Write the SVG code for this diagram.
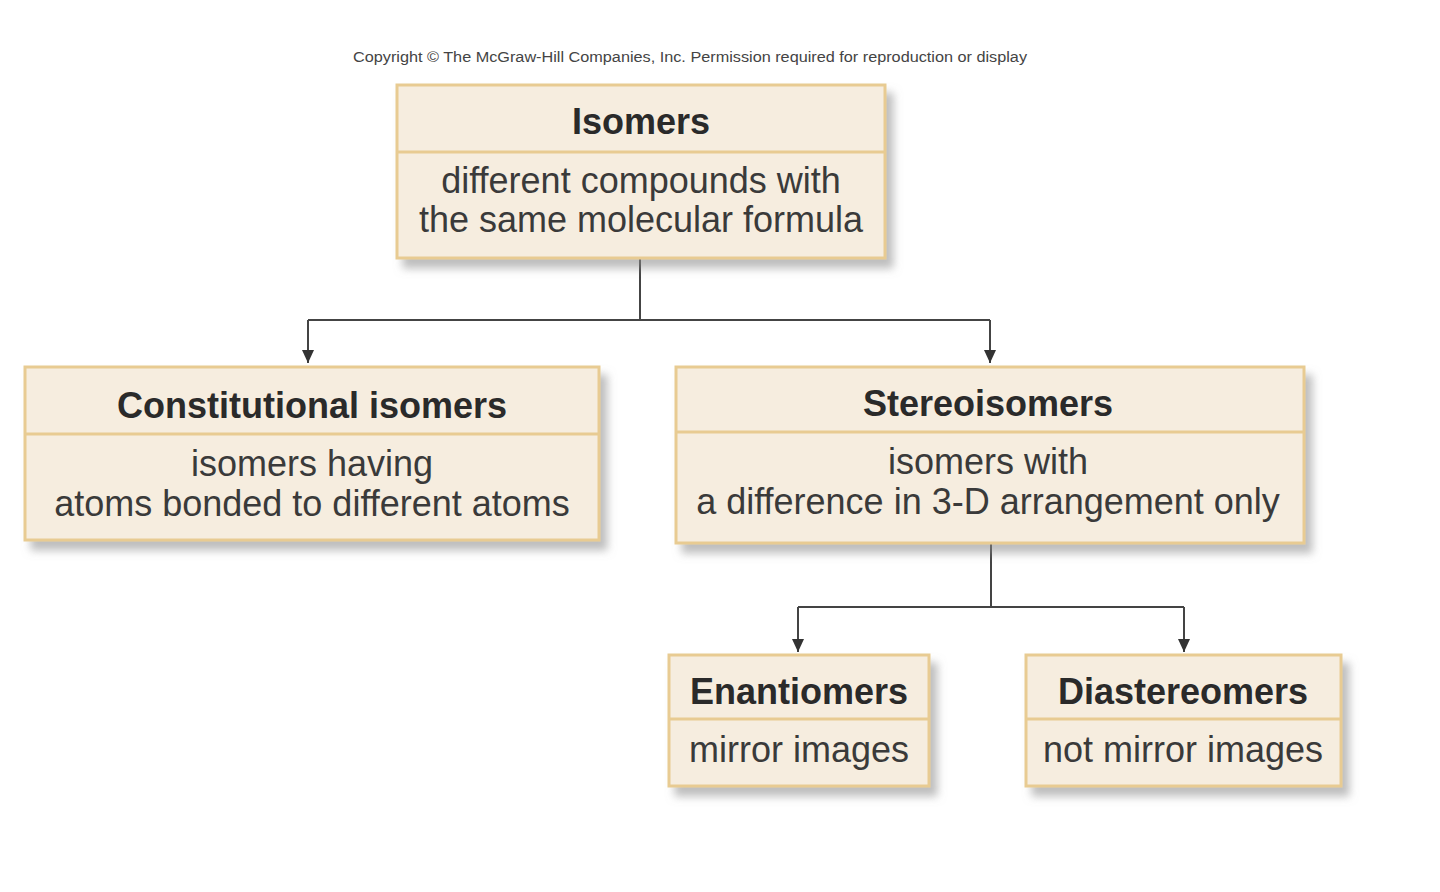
<svg xmlns="http://www.w3.org/2000/svg" width="1440" height="892" viewBox="0 0 1440 892">
<defs>
<style>
.box{fill:#f6eddf;stroke:#e8cb92;stroke-width:3;}
.div{stroke:#e8cb92;stroke-width:3;}
.t{font-family:"Liberation Sans",Arial,sans-serif;font-size:36px;font-weight:bold;fill:#2a2a2a;text-anchor:middle;}
.b{font-family:"Liberation Sans",Arial,sans-serif;font-size:36px;fill:#3a3a3a;text-anchor:middle;}
.c{fill:none;stroke:#444;stroke-width:2;}
.a{marker-end:url(#ah);}
.cp{font-family:"Liberation Sans",Arial,sans-serif;font-size:14px;fill:#444;}
</style>
<filter id="sh" x="-10%" y="-10%" width="125%" height="135%">
<feDropShadow dx="7" dy="9" stdDeviation="4" flood-color="#888" flood-opacity="0.55"/>
</filter>
<marker id="ah" markerWidth="13" markerHeight="12" refX="13" refY="6" orient="auto" markerUnits="userSpaceOnUse" viewBox="0 0 13 12">
<path d="M0,0 L13,6 L0,12 Z" fill="#333"/>
</marker>
</defs>
<rect width="1440" height="892" fill="#fff"/>
<text class="cp" x="353" y="62" textLength="674" lengthAdjust="spacingAndGlyphs">Copyright © The McGraw-Hill Companies, Inc. Permission required for reproduction or display</text>
<g id="connectors">
<path class="c" d="M640,258 V320 M308,320 H990"/>
<path class="c a" d="M308,320 V363"/>
<path class="c a" d="M990,320 V363"/>
<path class="c" d="M991,543 V607 M798,607 H1184"/>
<path class="c a" d="M798,607 V652"/>
<path class="c a" d="M1184,607 V652"/>
</g>
<g id="isomers">
<rect class="box" x="397" y="85" width="488" height="173" filter="url(#sh)"/>
<line class="div" x1="397" y1="152" x2="885" y2="152"/>
<text class="t" x="641" y="134">Isomers</text>
<text class="b" x="641" y="193">different compounds with</text>
<text class="b" x="641" y="232">the same molecular formula</text>
</g>
<g id="constitutional">
<rect class="box" x="25" y="367" width="574" height="173" filter="url(#sh)"/>
<line class="div" x1="25" y1="434" x2="599" y2="434"/>
<text class="t" x="312" y="418">Constitutional isomers</text>
<text class="b" x="312" y="476">isomers having</text>
<text class="b" x="312" y="516">atoms bonded to different atoms</text>
</g>
<g id="stereoisomers">
<rect class="box" x="676" y="367" width="628" height="176" filter="url(#sh)"/>
<line class="div" x1="676" y1="432" x2="1304" y2="432"/>
<text class="t" x="988" y="416">Stereoisomers</text>
<text class="b" x="988" y="474">isomers with</text>
<text class="b" x="988" y="514">a difference in 3-D arrangement only</text>
</g>
<g id="enantiomers">
<rect class="box" x="669" y="655" width="260" height="131" filter="url(#sh)"/>
<line class="div" x1="669" y1="719" x2="929" y2="719"/>
<text class="t" x="799" y="704">Enantiomers</text>
<text class="b" x="799" y="762">mirror images</text>
</g>
<g id="diastereomers">
<rect class="box" x="1026" y="655" width="315" height="131" filter="url(#sh)"/>
<line class="div" x1="1026" y1="719" x2="1341" y2="719"/>
<text class="t" x="1183" y="704">Diastereomers</text>
<text class="b" x="1183" y="762">not mirror images</text>
</g>
</svg>
